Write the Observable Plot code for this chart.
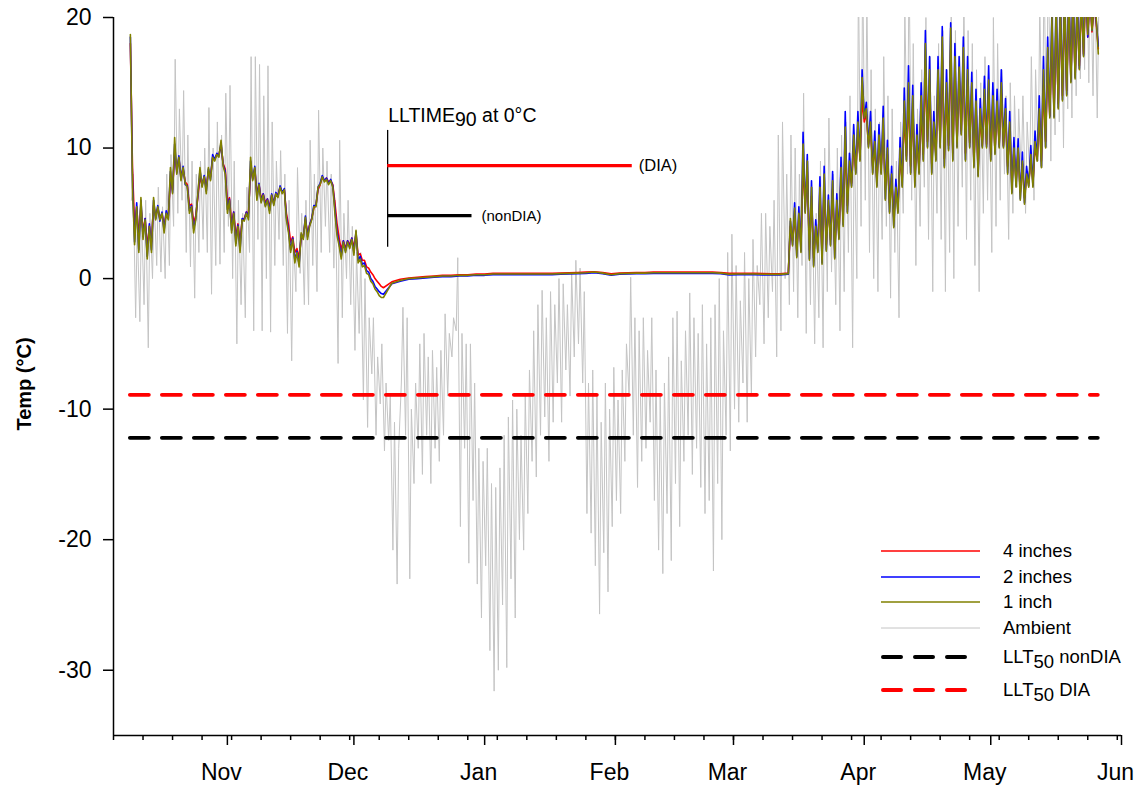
<!DOCTYPE html>
<html><head><meta charset="utf-8">
<script src="https://cdn.jsdelivr.net/npm/d3@7"></script>
<script src="https://cdn.jsdelivr.net/npm/@observablehq/plot@0.6"></script>
<style>body{margin:0;background:#fff} svg{display:block}</style>
</head><body><div id="chart"></div><script>
// ---------- data ----------
// daily ambient minimum / maximum, 9 Oct 2013 .. 26 May 2014
const ambientMin = [
6,-3,-3.3,-2,-5.3,0,1,0.5,0,1,
4,5,6,2,0.9,-1.5,2,3,2,-1.2,
1,1.1,2,4,0,-5,-2,-3,2,-4,
3,-4,0,-4.1,1,3,1,-4.2,-6.3,-1,
0.4,-2,-2,1,-1,2,4,2,0.8,-6.5,
-3,0,-2,-5.5,-4.2,-9.3,-11.4,-7.3,-12,-9.6,
-13.2,-12.4,-20.8,-23.4,-8,-12,-23,-15.7,-13,-15,
-12,-15.7,-13,-14,-12,-9,-6,-4,-19,-13,
-21.8,-17,-23.4,-26,-22,-28.5,-31.6,-30,-25,-29.8,
-23,-26,-20,-20.8,-18,-14,-15.2,-12,-10.6,-14,
-11,-8,-11,-7,-9,-6,-5,-8,-18,-19.5,
-22,-25.7,-21,-24,-19,-17,-18,-14,-9,-12,
-16,-14,-13,-11,-17,-20.8,-22.6,-18,-21.6,-15.7,
-19,-14,-12,-15,-13,-16,-18,-17,-22.4,-15.7,
-20,-12,-13.2,-10,-11,-8,-11,-9,-6,-2,
-5,-3,-1,-6,-4,0,-2,-1,-3,1,
-4.2,-2,-5,-3,-5.3,-1,0.5,-2,-4,-1,
2,-5.3,0,4,6,2,0,-1,3,4,
-1.5,2,-3,5,8,6,1,4,7,3,
-1,5,3,-1,2,0,4,7,3,6,
1,-1,5,6,2,4,6,8,3,5,
7,8,5,8,6,9,8.5,10,9,11,
12,10,13,12.3,14,15.3,16,15,14,12.3];
const ambientMax = [
8,4,5,6,5,6,7,5.5,8,9.5,
16.8,13,14.4,11,9,8,9,10,13.1,10,
12,11,14.2,14.8,9,6,5,7,17,17,
16.4,14,16.3,12,9,9.8,8,6,3,8.5,
5,6,10.6,8,12.9,10,9,8,6,10.6,
5,6,4,2,2,0,-3,-3,-6,-5,
-8,-9,-11,-13,-2.2,-3,-10,-8,-5,-4.2,
-6,-5.5,-6.8,-5.5,-2.7,-4.2,-3,1.6,-4.2,-5,
-5,-8,-13,-14,-13,-15.7,-16,-14.5,-12,-10.6,
-9.3,-10,-12,-9,-7,-4,-2,-0.9,-3,-1,
-2,0,-0.4,-2,0.5,1.4,0.8,-1,-8,-7,
-9,-11,-8,-10,-6.8,-9.3,-7,-5,0.1,-3,
-4,-3,-5.5,-3,-7,-9,-8,-6,-3,-2.5,
-6.3,-4,-1.1,-3,-4.2,-2,-5,-3,-2,0,
-4,2,3.4,1,-1.7,2,0,3,1,5,
5,4,6,11,12,8,11,10,8,14.2,
9,7,5,9,10,12.3,8,10,11,12,
14,11,23,24,22,16,13,12,17,14,
13,9,12,21,24,18,13,16,20,17,
14,18,19,16,21,19,17,22,19,18,
16,15,17,15,20,18,16,14,15,14,
13,14,12,17,16,21,24,26,22,25,
26,23,25,27,24,26,27,25,24,21];

// soil temperatures: fall (twice daily), winter (every 2 days), spring (twice daily)
const soil1Fall = [
18.7,7.0,2.6,5.5,2.0,6.2,3.0,4.5,1.5,4.0,
2.0,6.2,4.5,5.5,4.5,5.0,3.5,5.0,4.5,8.5,
6.5,10.8,8.0,9.3,7.5,8.5,7.3,7.0,5.0,5.5,
3.5,4.5,6.5,8.5,7.0,7.8,6.5,8.5,7.5,9.3,
9.0,9.5,9.3,10.6,8.6,8.0,5.0,6.0,3.5,5.0,
2.5,4.0,2.0,4.5,4.4,5.0,4.5,9.3,7.5,8.5,
6.0,7.2,5.8,6.4,5.5,6.0,5.0,6.4,5.6,6.5,
6.2,7.0,6.5,6.8,4.5,3.5,2.0,3.0,1.2,2.0,
0.9,3.5,3.0,4.7,3.0,4.0,4.5,5.5,5.5,7.0,
7.2,7.8,7.4,7.6,7.2,7.5,7.0,5.0,3.3,2.5,
1.5,2.8,2.0,2.8,2.3,3.0,1.8,3.7,1.2,1.5,
0.9,1.0,0.4,0.3,-0.2,-0.4,-0.8,-1.0,-1.3,-1.45];
const soil2Fall = [
18.5,7.5,2.8,5.8,2.2,6.0,3.2,4.6,1.7,4.2,
2.2,6.0,4.6,5.6,4.4,5.1,3.7,5.2,4.6,8.2,
6.6,10.3,8.1,9.4,7.6,8.6,7.2,7.1,5.2,5.6,
3.8,4.6,6.4,8.3,7.1,7.9,6.7,8.4,7.6,9.5,
9.1,9.6,9.4,10.4,8.7,8.2,5.3,6.1,3.7,5.1,
2.7,4.1,2.2,4.6,4.5,5.1,4.7,9.0,7.6,8.6,
6.2,7.3,5.9,6.5,5.6,6.1,5.2,6.5,5.7,6.6,
6.3,7.1,6.6,6.9,4.7,3.7,2.2,3.1,1.4,2.1,
1.1,3.4,3.1,4.8,3.2,4.1,4.6,5.6,5.6,7.0,
7.3,7.9,7.5,7.7,7.3,7.6,7.1,5.3,3.6,2.7,
1.7,2.9,2.1,2.9,2.4,3.1,2.0,3.6,1.4,1.7,
1.1,1.2,0.6,0.5,0.0,-0.2,-0.6,-0.8,-1.0,-1.15];
const soil4Fall = [
18.0,8.5,4.0,5.5,3.2,5.6,3.6,4.6,2.4,4.0,
2.8,5.6,4.8,5.4,4.6,5.0,4.0,5.0,4.8,7.6,
6.8,9.6,8.3,9.2,7.8,8.4,7.4,7.2,5.6,5.7,
4.3,4.8,6.2,7.8,7.2,7.8,7.0,8.2,7.8,9.2,
9.2,9.5,9.5,10.2,8.8,8.4,5.8,6.2,4.2,5.1,
3.2,4.2,2.8,4.5,4.6,5.1,5.0,8.4,7.7,8.4,
6.5,7.2,6.1,6.5,5.8,6.1,5.5,6.4,5.8,6.5,
6.4,7.0,6.6,6.8,5.0,4.1,2.8,3.2,2.0,2.3,
1.6,3.1,3.2,4.5,3.5,4.1,4.6,5.4,5.6,6.8,
7.2,7.8,7.5,7.7,7.4,7.5,7.2,5.8,4.2,3.1,
2.2,2.9,2.3,2.9,2.6,3.1,2.4,3.4,1.8,1.9,
1.4,1.4,0.9,0.8,0.5,0.3,0.0,-0.2,-0.4,-0.6];
const soil1Winter = [-1.45,-0.35,-0.15,0,0.05,0.1,0.15,0.2,0.2,0.25,0.25,0.3,0.3,0.35,0.35,0.35,0.35,0.35,0.35,0.35,0.35,0.38,0.4,0.42,0.45,0.5,0.42,0.3,0.38,0.4,0.42,0.42,0.45,0.45,0.45,0.45,0.45,0.45,0.45,0.45,0.42,0.33,0.35,0.35,0.35,0.33,0.32,0.32,0.38];
const soil2Winter = [-1.2,-0.4,-0.2,-0.05,0,0.05,0.1,0.15,0.15,0.2,0.2,0.25,0.25,0.3,0.3,0.3,0.3,0.3,0.3,0.3,0.3,0.33,0.35,0.37,0.4,0.45,0.37,0.25,0.33,0.35,0.37,0.37,0.4,0.4,0.4,0.4,0.4,0.4,0.4,0.4,0.37,0.28,0.3,0.3,0.3,0.28,0.27,0.27,0.33];
const soil4Winter = [-0.7,-0.25,-0.05,0.05,0.1,0.15,0.2,0.25,0.25,0.3,0.3,0.35,0.35,0.4,0.4,0.4,0.4,0.4,0.4,0.4,0.4,0.43,0.45,0.47,0.5,0.52,0.47,0.36,0.42,0.45,0.47,0.47,0.5,0.5,0.5,0.5,0.5,0.5,0.5,0.5,0.47,0.4,0.4,0.4,0.4,0.38,0.37,0.37,0.42];
const soil1Spring = [4.6,
2.5,5.4,1.6,5.0,2.0,10.3,5.0,9.0,1.4,7.0,
0.9,4.0,2.0,7.0,1.1,8.0,2.1,6.0,2.5,7.5,
1.5,6.0,3.0,8.5,4.0,11.6,5.0,9.0,7.0,11.0,
8.0,12.0,9.0,15.4,12.3,13.0,10.0,12.0,8.0,10.5,
7.0,11.0,8.0,12.3,6.0,10.0,5.0,8.0,3.9,7.0,
5.0,10.0,7.0,13.6,9.0,15.0,8.0,14.0,7.0,11.0,
8.0,14.0,9.0,18.0,10.0,16.0,8.0,12.0,9.0,16.0,
10.0,18.5,8.5,15.0,9.8,19.2,9.0,17.0,10.0,16.2,
11.0,17.7,9.0,16.0,10.0,15.0,8.5,13.6,7.8,13.0,
10.0,14.5,10.0,15.2,9.0,14.0,9.5,13.6,10.0,15.0,
10.0,13.0,8.0,12.0,6.5,10.0,7.0,10.0,6.0,9.0,
5.7,8.0,7.0,9.5,7.0,10.5,9.0,13.0,8.5,16.0,
10.0,17.7,12.3,20.0,12.3,21.0,13.0,21.0,13.6,22.0,
14.0,22.0,15.0,22.0,15.3,21.0,16.0,22.0,17.0,23.0,
18.7,22.0,19.0,21.0,20.0,17.2];
const soil2Spring = [4.4,
2.6,5.8,1.7,5.5,2.1,11.2,5.1,9.5,1.5,7.5,
1.0,4.5,2.1,7.8,1.2,8.6,2.2,6.4,2.6,8.2,
1.6,6.5,3.1,9.3,4.1,12.8,5.1,9.6,7.1,11.8,
8.1,12.8,9.1,16.0,12.3,13.5,10.1,12.8,8.1,11.3,
7.1,11.8,8.1,13.2,6.1,10.6,5.1,8.6,4.0,7.6,
5.1,10.8,7.1,14.6,9.1,16.3,8.1,14.8,7.1,11.8,
8.1,15.0,9.1,19.0,10.1,17.0,8.1,12.8,9.1,17.0,
10.1,19.3,8.6,16.0,9.9,19.6,9.1,18.0,10.1,17.0,
11.1,18.5,9.1,17.0,10.1,15.8,8.6,14.5,7.9,13.8,
10.1,15.5,10.1,16.3,9.1,15.0,9.6,14.5,10.1,16.0,
10.1,13.8,8.1,12.8,6.6,10.8,7.1,10.7,6.1,9.7,
5.8,8.6,7.1,10.2,7.1,11.3,9.1,14.0,8.6,17.0,
10.1,18.5,12.4,20.5,12.4,21.5,13.1,21.5,13.7,22.5,
14.1,22.5,15.1,22.5,15.4,21.5,16.1,22.5,17.1,23.5,
18.5,22.5,19.0,21.5,19.8,17.8];
const soil4Spring = [4.0,
2.9,4.8,2.2,4.6,2.6,8.8,5.4,8.2,2.2,6.3,
1.6,3.8,2.5,6.3,1.8,7.0,2.6,5.6,3.0,6.8,
2.2,5.6,3.5,7.6,4.6,10.3,5.6,8.6,7.3,10.2,
8.4,11.2,9.4,13.8,12.0,12.6,10.3,11.5,8.6,10.0,
7.6,10.3,8.5,11.4,6.8,9.5,5.8,7.7,4.7,6.8,
5.6,9.2,7.6,12.4,9.4,13.8,8.6,13.0,7.7,10.5,
8.5,12.8,9.5,16.0,10.5,14.8,8.8,11.6,9.5,14.8,
10.5,17.0,9.2,14.2,10.2,17.5,9.6,16.0,10.4,15.4,
11.3,16.5,9.6,15.2,10.4,14.3,9.0,13.0,8.3,12.5,
10.2,13.8,10.3,14.4,9.5,13.5,9.8,13.2,10.3,14.2,
10.2,12.6,8.6,11.6,7.2,9.8,7.5,9.8,6.6,8.8,
6.2,7.9,7.3,9.2,7.4,10.0,9.2,12.3,9.0,14.8,
10.5,16.5,12.5,18.6,12.8,19.8,13.4,20.2,14.0,21.0,
14.4,21.2,15.3,21.3,15.6,20.6,16.3,21.4,17.2,22.4,
18.5,21.7,18.9,20.8,19.6,17.6];

// LLT50 thresholds (°C) and LLTIME90 at 0 °C (days)
const llt50Names = ["nonDIA", "DIA"];
const llt50Values = [-12.2, -8.9];
const lltimeNames = ["DIA", "nonDIA"];
const lltimeDays = [58, 20];
const monthLabels = ["Nov","Dec","Jan","Feb","Mar","Apr","May","Jun"];
const yTicks = [-30, -20, -10, 0, 10, 20];

// ---------- build tables ----------
const DAY = 864e5;
const START = Date.UTC(2013, 9, 9);
const at = d => new Date(START + d * DAY);
const ambientRows = [];
ambientMin.forEach((v, i) => {
  ambientRows.push({date: at(i + 0.25), temp: v});
  ambientRows.push({date: at(i + 0.625), temp: ambientMax[i]});
});
const soilDays = [...d3.range(0, 60, 0.5), ...d3.range(60, 157, 2), ...d3.range(156.5, 230, 0.5)];
const soil1 = [...soil1Fall, ...soil1Winter, ...soil1Spring];
const soil2 = [...soil2Fall, ...soil2Winter, ...soil2Spring];
const soil4 = [...soil4Fall, ...soil4Winter, ...soil4Spring];
const rowsOf = arr => soilDays.map((d, i) => ({date: at(d), temp: arr[i]}));
const lastDay = soilDays[soilDays.length - 1];
const llt50Rows = llt50Names.map((n, i) => ({name: n, value: llt50Values[i], start: at(0), end: at(lastDay)}));
const lltStart = at(61);
const lltLevels = {DIA: 8.66, nonDIA: 4.83};  // annotation placement
const lltRows = lltimeNames.map((n, i) => ({name: n, start: lltStart, end: at(61 + lltimeDays[i]), level: lltLevels[n]}));
const xDomain = [new Date(Date.UTC(2013, 9, 5)), new Date(Date.UTC(2014, 5, 1))];
const monthTicks = monthLabels.map((m, i) => new Date(Date.UTC(i < 2 ? 2013 : 2014, (10 + i) % 12, 1)));
const weeks = d3.range(0, 35).map(k => new Date(+xDomain[0] + k * 7 * DAY)).filter(d => d <= xDomain[1]);

const FONT = "'Liberation Sans', Arial, Helvetica, sans-serif";
const plot = Plot.plot({
  width: 1143, height: 790,
  marginLeft: 113, marginRight: 22, marginTop: 17, marginBottom: 55,
  x: {type: "utc", domain: xDomain},
  y: {domain: [-35, 20]},
  style: {fontFamily: FONT, background: "white", color: "black"},
  marks: [
    Plot.line(ambientRows, {x: "date", y: "temp", stroke: "#c4c4c4", strokeWidth: 1, clip: true}),
    Plot.ruleY(llt50Rows, {y: "value", x1: "start", x2: "end", stroke: d => d.name === "DIA" ? "#ff0000" : "#000000",
      strokeWidth: 3.8, strokeDasharray: "19,13", strokeLinecap: "round"}),
    Plot.line(rowsOf(soil4), {x: "date", y: "temp", stroke: "#ff0000", strokeWidth: 1.6, clip: true}),
    Plot.line(rowsOf(soil2), {x: "date", y: "temp", stroke: "#0000ff", strokeWidth: 1.6, clip: true}),
    Plot.line(rowsOf(soil1), {x: "date", y: "temp", stroke: "#808000", strokeWidth: 1.6, clip: true}),
    Plot.ruleX([lltStart], {x: d => d, y1: () => 2.4, y2: () => 11.35, stroke: "black", strokeWidth: 1.3}),
    Plot.ruleY(lltRows, {y: "level", x1: "start", x2: "end", stroke: d => d.name === "DIA" ? "#ff0000" : "#000000", strokeWidth: 3.2}),
    Plot.ruleX([xDomain[0]], {stroke: "black", strokeWidth: 1.5}),
    Plot.ruleY([-35], {stroke: "black", strokeWidth: 1.5}),
    Plot.axisY({ticks: yTicks, tickSize: 10, tickPadding: 12, tickFormat: d => String(d), fontSize: 23, label: null, strokeWidth: 1.5}),
    Plot.axisX({ticks: monthTicks, tickSize: 10, tickFormat: () => "", label: null, strokeWidth: 1.5}),
    Plot.axisX({ticks: monthTicks, tickSize: 0, tickPadding: 28.5, tickFormat: (d, i) => monthLabels[i], fontSize: 23, label: null, dx: -6}),
    Plot.axisX({ticks: weeks, tickSize: 5, tickFormat: () => "", label: null, strokeWidth: 1.5})
  ]
});
document.getElementById("chart").appendChild(plot);

// ---------- texts & legend ----------
const svg = d3.select(plot);
const sx = plot.scale("x").apply, sy = plot.scale("y").apply;
const g = svg.append("g").attr("font-family", FONT).attr("fill", "black").attr("text-anchor", "start");

g.append("text").attr("transform", "translate(31,384) rotate(-90)").attr("text-anchor", "middle")
  .attr("font-size", 20).attr("font-weight", "bold").text("Temp (°C)");

const lx = sx(lltStart);
const t1 = g.append("text").attr("x", lx + 1).attr("y", sy(11.35) - 8).attr("font-size", 19.5);
t1.append("tspan").text("LLTIME");
t1.append("tspan").attr("dy", 4).text("90");
t1.append("tspan").attr("dy", -4).text(" at 0°C");
lltRows.forEach(r => {
  g.append("text").attr("x", sx(r.end) + (r.name === "DIA" ? 7 : 10)).attr("y", sy(r.level) + 5.5)
    .attr("font-size", r.name === "DIA" ? 16.5 : 15).text(`(${r.name})`);
});

const legend = [
  {label: ["4 inches"], stroke: "#ff0000", w: 1.3, y: 551},
  {label: ["2 inches"], stroke: "#0000ff", w: 1.3, y: 577},
  {label: ["1 inch"], stroke: "#808000", w: 1.3, y: 602},
  {label: ["Ambient"], stroke: "#c4c4c4", w: 1, y: 628},
  {label: ["LLT", "50", " nonDIA"], stroke: "#000000", w: 4, y: 657, dash: true, x2: 965},
  {label: ["LLT", "50", " DIA"], stroke: "#ff0000", w: 4, y: 690, dash: true, x2: 979}
];
legend.forEach(e => {
  g.append("line").attr("x1", e.dash ? 883 : 881).attr("x2", e.x2 || 980).attr("y1", e.y).attr("y2", e.y)
    .attr("stroke", e.stroke).attr("stroke-width", e.w)
    .attr("stroke-dasharray", e.dash ? "18,14" : null).attr("stroke-linecap", e.dash ? "round" : "butt");
  const t = g.append("text").attr("x", 1003).attr("y", e.y + 6).attr("font-size", 18.5);
  if (e.label.length === 1) t.text(e.label[0]);
  else {
    t.append("tspan").text(e.label[0]);
    t.append("tspan").attr("dy", 5).text(e.label[1]);
    t.append("tspan").attr("dy", -5).text(e.label[2]);
  }
});
</script></body></html>
